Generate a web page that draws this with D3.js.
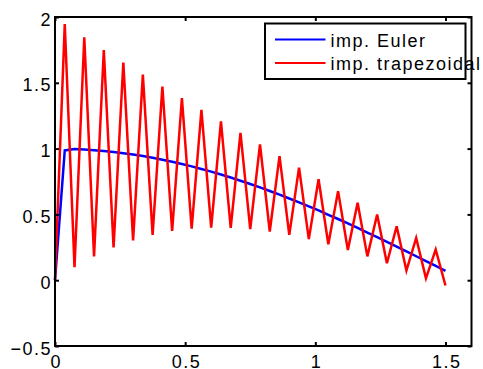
<!DOCTYPE html>
<html><head><meta charset="utf-8">
<script src="https://cdn.jsdelivr.net/npm/d3@7"></script>
<style>
html,body{margin:0;padding:0;background:#fff;}
svg{display:block;}
text{font-family:"Liberation Sans",Arial,Helvetica,sans-serif;font-size:18px;letter-spacing:1.5px;fill:#000;}
</style></head>
<body>
<script>
// time steps (h = 0.0375, 40 steps)
const tValues = [0,0.0375,0.075,0.1125,0.15,0.1875,0.225,0.2625,0.3,0.3375,0.375,0.4125,0.45,0.4875,0.525,0.5625,0.6,0.6375,0.675,0.7125,0.75,0.7875,0.825,0.8625,0.9,0.9375,0.975,1.0125,1.05,1.0875,1.125,1.1625,1.2,1.2375,1.275,1.3125,1.35,1.3875,1.425,1.4625,1.5];
const eulerValues = [0,0.986,0.997,0.993,0.988,0.982,0.974,0.965,0.955,0.943,0.930,0.916,0.900,0.883,0.865,0.845,0.825,0.803,0.780,0.756,0.731,0.705,0.678,0.650,0.621,0.591,0.561,0.530,0.497,0.465,0.431,0.397,0.362,0.327,0.291,0.255,0.219,0.182,0.145,0.108,0.071];
const trapValues = [0,1.947,0.099,1.846,0.181,1.748,0.249,1.654,0.303,1.562,0.344,1.472,0.374,1.383,0.392,1.295,0.400,1.207,0.398,1.119,0.388,1.032,0.370,0.943,0.344,0.855,0.312,0.767,0.273,0.677,0.230,0.588,0.181,0.499,0.129,0.410,0.073,0.321,0.014,0.233,-0.040];
const seriesNames = ["imp. Euler","imp. trapezoidal"];
const seriesColors = ["#0000ff","#ff0000"];
const xTicks = [0,0.5,1,1.5];
const xTickLabels = ["0","0.5","1","1.5"];
const yTicks = [-0.5,0,0.5,1,1.5,2];
const yTickLabels = ["\u22120.5","0","0.5","1","1.5","2"];

const W=483,H=369;
const L=55,R=471.5,T=17,B=346;
const svg=d3.select("body").append("svg").attr("width",W).attr("height",H);
const x=d3.scaleLinear().domain([0,1.6]).range([L,R]);
const y=d3.scaleLinear().domain([-0.5,2]).range([B,T]);

const line=d3.line().x((d,i)=>x(tValues[i])).y(d=>y(d));
svg.append("path").datum(eulerValues).attr("d",line).attr("fill","none")
  .attr("stroke",seriesColors[0]).attr("stroke-width",2.5).attr("stroke-linejoin","miter");
svg.append("path").datum(trapValues).attr("d",line).attr("fill","none")
  .attr("stroke",seriesColors[1]).attr("stroke-width",2.5).attr("stroke-linejoin","miter");

// axes
function styleAxis(g){g.select(".domain").remove();g.selectAll(".tick line").attr("stroke","#000").attr("stroke-width",2);}
svg.append("g").attr("transform",`translate(0,${B})`)
  .call(d3.axisBottom(x).tickValues(xTicks).tickFormat((d,i)=>xTickLabels[i]).tickSize(-4).tickPadding(9))
  .call(styleAxis).call(g=>g.selectAll("text").attr("font-size",null).attr("font-family",null).attr("dx","0.75px"));
svg.append("g").attr("transform",`translate(0,${T})`)
  .call(d3.axisTop(x).tickValues(xTicks).tickFormat("").tickSize(-4)).call(styleAxis);
svg.append("g").attr("transform",`translate(${L},0)`)
  .call(d3.axisLeft(y).tickValues(yTicks).tickFormat((d,i)=>yTickLabels[i]).tickSize(-4).tickPadding(3))
  .call(styleAxis).call(g=>g.selectAll("text").attr("font-size",null).attr("font-family",null).attr("dy","0.45em"));
svg.append("g").attr("transform",`translate(${R},0)`)
  .call(d3.axisRight(y).tickValues(yTicks).tickFormat("").tickSize(-4)).call(styleAxis);
svg.selectAll("g").attr("font-size",null).attr("font-family",null);
svg.append("rect").attr("x",L).attr("y",T).attr("width",R-L).attr("height",B-T)
  .attr("fill","none").attr("stroke","#000").attr("stroke-width",2);

// legend
const lg=svg.append("g");
lg.append("rect").attr("x",265).attr("y",23.5).attr("width",200.5).attr("height",55.5)
  .attr("fill","#fff").attr("stroke","#000").attr("stroke-width",2);
seriesNames.forEach((n,i)=>{
  const yy=39.5+i*23.5;
  lg.append("line").attr("x1",275).attr("x2",325.5).attr("y1",yy).attr("y2",yy)
    .attr("stroke",seriesColors[i]).attr("stroke-width",2);
  lg.append("text").attr("x",330.5).attr("y",yy+7).text(n);
});
</script>
</body></html>
